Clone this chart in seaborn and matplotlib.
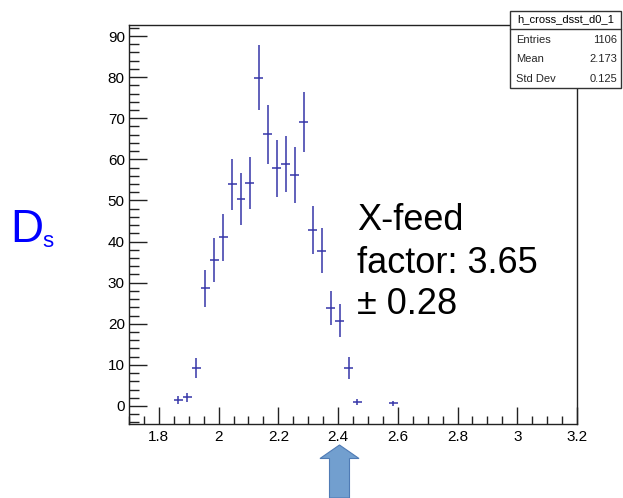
import matplotlib
matplotlib.use("Agg")
import matplotlib.pyplot as plt
from matplotlib.patches import Rectangle, Polygon
from matplotlib.ticker import MultipleLocator
import seaborn as sns

# Histogram h_cross_dsst_d0_1: filled bins (centres, contents, errors)
bin_centers = [1.865, 1.895, 1.925, 1.955, 1.985, 2.015, 2.045, 2.075, 2.105,
               2.135, 2.165, 2.195, 2.225, 2.255, 2.285, 2.315, 2.345, 2.375,
               2.405, 2.435, 2.465, 2.585]
bin_values = [1.5, 2.1, 9.2, 28.6, 35.5, 41.0, 53.9, 50.4, 54.2,
              79.9, 66.1, 57.8, 58.9, 56.2, 69.2, 42.8, 37.8, 23.8,
              20.7, 9.2, 1.05, 0.65]
bin_errors = [0.9, 1.1, 2.5, 4.6, 5.3, 5.7, 6.3, 6.3, 6.4,
              7.9, 7.2, 7.0, 6.8, 6.7, 7.3, 5.8, 5.5, 4.2,
              4.0, 2.7, 0.7, 0.6]
bin_half_width = 0.015

x_ticks = [1.8, 2.0, 2.2, 2.4, 2.6, 2.8, 3.0, 3.2]
x_tick_labels = ["1.8", "2", "2.2", "2.4", "2.6", "2.8", "3", "3.2"]
y_ticks = [0, 10, 20, 30, 40, 50, 60, 70, 80, 90]

stats_title = "h_cross_dsst_d0_1"
stats_rows = [("Entries", "1106"), ("Mean", "2.173"), ("Std Dev", "0.125")]
note_lines = ["X-feed", "factor: 3.65", "\u00b1 0.28"]

sns.set_theme(style="white")
plt.rcParams["font.family"] = ["Liberation Sans", "DejaVu Sans"]

W, H = 623, 498
fig = plt.figure(figsize=(W / 100, H / 100), dpi=100)
fig.patch.set_facecolor("white")

ax = fig.add_axes([129 / W, 1 - 424 / H, (577 - 129) / W, (424 - 25) / H])
ax.set_facecolor("white")

line_col = "#3535a8"
ax.errorbar(bin_centers, bin_values, xerr=bin_half_width, yerr=bin_errors,
            fmt="none", ecolor=line_col, elinewidth=1.1, capsize=0)

ax.set_xlim(1.7, 3.2)
ax.set_ylim(-4.38, 92.68)
ax.set_xticks(x_ticks)
ax.set_xticklabels(x_tick_labels)
ax.set_yticks(y_ticks)
ax.xaxis.set_minor_locator(MultipleLocator(0.05))
ax.yaxis.set_minor_locator(MultipleLocator(2))

for s in ax.spines.values():
    s.set_color("#222222")
    s.set_linewidth(1.0)

ax.tick_params(axis="both", which="both", direction="in", colors="#222222",
               labelcolor="black", labelsize=11, top=False, right=False,
               bottom=True, left=True)
ax.tick_params(axis="x", which="major", length=12, width=1.0, pad=4)
ax.tick_params(axis="x", which="minor", length=6, width=1.0)
ax.tick_params(axis="y", which="major", length=13, width=1.0, pad=3)
ax.tick_params(axis="y", which="minor", length=7, width=1.0)
ax.grid(False)

# Statistics box in the top-right corner
bx0, bx1, by0, by1, byt = 510, 621, 11, 88, 29
fig.patches.append(Rectangle((bx0 / W, 1 - by1 / H), (bx1 - bx0) / W, (by1 - by0) / H,
                             transform=fig.transFigure, facecolor="white",
                             edgecolor="#333333", linewidth=1.0, zorder=5))
fig.add_artist(plt.Line2D([bx0 / W, bx1 / W], [1 - byt / H, 1 - byt / H],
                          transform=fig.transFigure, color="#333333", linewidth=1.0, zorder=6))
fig.text((bx0 + bx1) / 2 / W, 1 - 19.5 / H, stats_title, ha="center", va="center",
         fontsize=8, color="black", zorder=7)
row_y = [40, 59.5, 79]
for (name, val), yy in zip(stats_rows, row_y):
    fig.text(516 / W, 1 - yy / H, name, ha="left", va="center", fontsize=8, zorder=7)
    fig.text(617 / W, 1 - yy / H, val, ha="right", va="center", fontsize=8, zorder=7)

# Cross-feed annotation
for txt, base in zip(note_lines, [230.5, 272.5, 314.5]):
    fig.text(357 / W, 1 - base / H, txt, ha="left", va="baseline", fontsize=26,
             color="black")

# D_s label
fig.text(10 / W, 1 - 241.5 / H, "D", ha="left", va="baseline", fontsize=33,
         color="#0000ff")
fig.text(42 / W, 1 - 247 / H, "s", ha="left", va="baseline", fontsize=16,
         color="#0000ff")

# Arrow under the x axis
arrow_px = [(329.5, 498), (329.5, 458.5), (320, 458.5), (339.5, 445),
            (359, 458.5), (349.5, 458.5), (349.5, 498)]
fig.patches.append(Polygon([(x / W, 1 - y / H) for x, y in arrow_px], closed=True,
                           transform=fig.transFigure, facecolor="#729fcf",
                           edgecolor="#4f7bb5", linewidth=0.8))

fig.savefig("out.png", dpi=100)
